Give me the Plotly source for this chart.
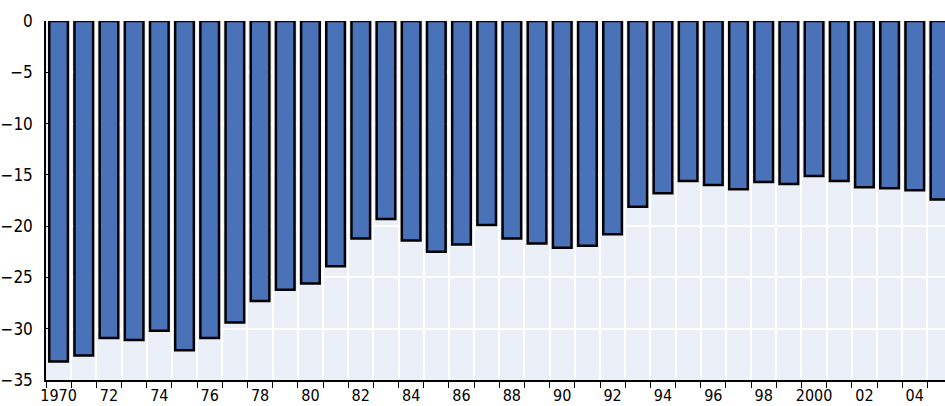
import plotly.graph_objects as go

# Years and values
years = list(range(1970, 2006))
values = [-33.2, -32.6, -30.9, -31.1, -30.2, -32.1, -30.9, -29.4, -27.3, -26.2,
          -25.6, -23.9, -21.2, -19.3, -21.4, -22.5, -21.8, -19.9, -21.2, -21.7,
          -22.1, -21.9, -20.8, -18.1, -16.8, -15.6, -16.0, -16.4, -15.7, -15.9,
          -15.1, -15.6, -16.2, -16.3, -16.5, -17.4]

tick_years = list(range(1970, 2005, 2))
tick_text = ['1970', '72', '74', '76', '78', '80', '82', '84', '86', '88',
             '90', '92', '94', '96', '98', '2000', '02', '04']

font_family = 'Liberation Sans Narrow, Arial Narrow, DejaVu Sans Condensed, Roboto, sans-serif'

fig = go.Figure()

fig.add_trace(go.Bar(
    x=years, y=values, width=0.74,
    marker=dict(color='#4a72b8', line=dict(color='black', width=2.5)),
))

fig.update_layout(
    width=945, height=406,
    margin=dict(l=46, r=0, t=21, b=26),
    paper_bgcolor='white',
    plot_bgcolor='#ebf0f8',
    showlegend=False,
    font=dict(family=font_family, size=17, color='black'),
)

fig.update_xaxes(
    range=[1969.5, 2005.2],
    tickmode='array', tickvals=tick_years, ticktext=tick_text,
    tickfont=dict(size=16),
    ticks='', showgrid=False, ticklabelstandoff=0, automargin=False,
    showline=True, linecolor='black', linewidth=1.5,
    minor=dict(tickmode='linear', tick0=1969.5, dtick=1, ticks='outside',
               ticklen=6, tickcolor='black', tickwidth=1,
               showgrid=True, gridcolor='white', gridwidth=1.5),
    zeroline=False,
)

fig.update_yaxes(
    range=[-35, 0],
    tickmode='linear', tick0=0, dtick=5,
    showgrid=True, gridcolor='white', gridwidth=1.5,
    ticks='inside', ticklen=3, tickcolor='black',
    ticklabelstandoff=8, automargin=False,
    showline=True, linecolor='black', linewidth=1.5,
    zeroline=False,
)

# remove the default page margin so the figure fills the window
fig.write_html("out.html", config={'displayModeBar': False},
               post_script="document.body.style.margin='0';")
